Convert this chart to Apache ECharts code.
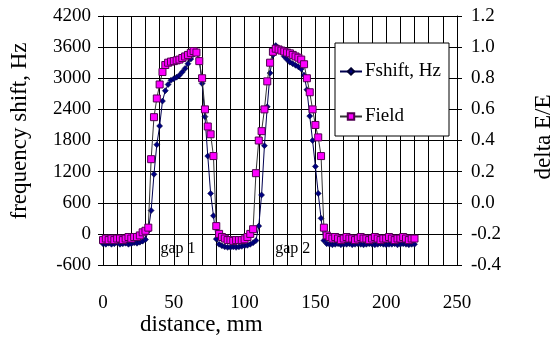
<!DOCTYPE html>
<html>
<head>
<meta charset="utf-8">
<script src="https://cdn.jsdelivr.net/npm/echarts@6/dist/echarts.min.js"></script>
<style>
  html, body { margin: 0; padding: 0; background: #fff; }
  #chart { width: 555px; height: 341px; }
</style>
</head>
<body>
<div id="chart"></div>
<script>
// distance along the cavity, mm
const distanceMm = [
  0, 2, 4, 6, 8, 10, 12, 14, 16, 18, 20, 22, 24, 26, 28, 30, 32, 34, 36, 38,
  40, 42, 44, 46, 48, 50, 52, 54, 56, 58, 60, 62, 64, 66, 68, 70, 72, 74, 76, 78,
  80, 82, 84, 86, 88, 90, 92, 94, 96, 98, 100, 102, 104, 106, 108, 110, 112, 114, 116, 118,
  120, 122, 124, 126, 128, 130, 132, 134, 136, 138, 140, 142, 144, 146, 148, 150, 152, 154, 156, 158,
  160, 162, 164, 166, 168, 170, 172, 174, 176, 178, 180, 182, 184, 186, 188, 190, 192, 194, 196, 198,
  200, 202, 204, 206, 208, 210, 212, 214, 216, 218, 220
];

// frequency shift, Hz (left axis)
const fshiftHz = [
  -190, -200, -180, -200, -190, -170, -200, -190, -180, -200, -190, -170, -180, -160, -140, -110, 60, 450, 1150, 1720,
  2080, 2560, 2760, 2880, 2960, 2990, 3020, 3060, 3120, 3190, 3280, 3370, 3460, 3500, 3350, 2900, 2260, 1500, 780, 350,
  -100, -200, -230, -250, -260, -260, -250, -260, -250, -240, -230, -220, -200, -170, -130, 150, 750, 1700, 2450, 3100,
  3450, 3630, 3570, 3500, 3420, 3360, 3310, 3280, 3250, 3220, 3180, 3060, 2780, 2270, 1800, 1300, 780, 300, -130, -190,
  -200, -210, -200, -190, -210, -200, -200, -190, -210, -200, -190, -200, -210, -200, -190, -200, -210, -200, -190, -200,
  -210, -200, -200, -190, -210, -200, -190, -200, -210, -200, -200
];

// relative field delta E/E (right axis)
const fieldRel = [
  -0.24, -0.23, -0.24, -0.23, -0.24, -0.23, -0.23, -0.24, -0.23, -0.22, -0.23, -0.22, -0.22, -0.21, -0.19, -0.18, -0.16, 0.28, 0.55, 0.67,
  0.76, 0.84, 0.885, 0.9, 0.907, 0.91, 0.915, 0.92, 0.93, 0.94, 0.95, 0.963, 0.975, 0.965, 0.91, 0.8, 0.6, 0.49, 0.44, 0.3,
  -0.15, -0.2, -0.22, -0.23, -0.24, -0.24, -0.245, -0.24, -0.24, -0.24, -0.235, -0.22, -0.2, -0.17, 0.19, 0.4, 0.46, 0.6, 0.78, 0.9,
  0.97, 0.99, 0.985, 0.978, 0.972, 0.965, 0.96, 0.95, 0.94, 0.932, 0.92, 0.89, 0.8, 0.71, 0.6, 0.5, 0.42, 0.3, -0.16, -0.21,
  -0.22, -0.23, -0.22, -0.23, -0.24, -0.23, -0.22, -0.23, -0.23, -0.24, -0.23, -0.22, -0.23, -0.23, -0.24, -0.23, -0.22, -0.23, -0.24, -0.23,
  -0.23, -0.22, -0.23, -0.24, -0.23, -0.23, -0.22, -0.23, -0.24, -0.23, -0.23
];

// gap annotations [distance, Hz]
const gapLabels = [
  { name: 'gap 1', coord: [53, -280] },
  { name: 'gap 2', coord: [134, -280] }
];

const FONT = 'Liberation Serif';

const chart = echarts.init(document.getElementById('chart'));

chart.setOption({
  animation: false,
  backgroundColor: '#fff',
  textStyle: { fontFamily: FONT, color: '#000' },
  grid: { left: 103, right: 98, top: 16, bottom: 76 },
  legend: {
    data: ['Fshift, Hz', 'Field'],
    orient: 'vertical',
    left: 335,
    top: 43,
    backgroundColor: '#fff',
    borderColor: '#000',
    borderWidth: 1,
    borderRadius: 0,
    padding: [19, 8, 10, 4],
    itemGap: 26,
    itemWidth: 22,
    itemHeight: 8,
    textStyle: { fontFamily: FONT, fontSize: 19, color: '#000', padding: [0, 0, 0, -2] }
  },
  xAxis: {
    type: 'value',
    min: 0,
    max: 250,
    interval: 50,
    axisLine: { show: true, lineStyle: { color: '#000', width: 1 } },
    axisTick: { show: false },
    minorTick: { show: false, splitNumber: 5 },
    splitLine: { show: true, lineStyle: { color: '#000', width: 1 } },
    minorSplitLine: { show: true, lineStyle: { color: '#000', width: 1 } },
    axisLabel: { fontFamily: FONT, fontSize: 19, color: '#000', margin: 29 }
  },
  yAxis: [
    {
      type: 'value',
      min: -600,
      max: 4200,
      interval: 600,
      axisLine: { show: true, lineStyle: { color: '#000', width: 1 } },
      axisTick: { show: true, inside: false, length: 5, lineStyle: { color: '#000' } },
      splitLine: { show: true, lineStyle: { color: '#000', width: 1 } },
      axisLabel: {
        fontFamily: FONT, fontSize: 19, color: '#000', margin: 12,
        formatter: (v) => String(v)
      }
    },
    {
      type: 'value',
      min: -0.4,
      max: 1.2,
      interval: 0.2,
      position: 'right',
      axisLine: { show: true, lineStyle: { color: '#000', width: 1 } },
      axisTick: { show: true, inside: false, length: 5, lineStyle: { color: '#000' } },
      splitLine: { show: false },
      axisLabel: {
        fontFamily: FONT, fontSize: 19, color: '#000', margin: 14,
        formatter: (v) => v.toFixed(1)
      }
    }
  ],
  graphic: [
    {
      type: 'text', left: 140, top: 313,
      style: { text: 'distance, mm', font: '23px "Liberation Serif"', fill: '#000' }
    },
    {
      type: 'text', x: 8, y: 131, rotation: Math.PI / 2,
      style: { text: 'frequency shift, Hz', font: '23px "Liberation Serif"', fill: '#000', align: 'center', verticalAlign: 'top' }
    },
    {
      type: 'text', x: 532, y: 137, rotation: Math.PI / 2,
      style: { text: 'delta E/E', font: '23px "Liberation Serif"', fill: '#000', align: 'center', verticalAlign: 'top' }
    }
  ],
  series: [
    {
      name: 'Fshift, Hz',
      type: 'line',
      yAxisIndex: 0,
      data: distanceMm.map((d, i) => [d, fshiftHz[i]]),
      symbol: 'diamond',
      symbolSize: 6,
      showAllSymbol: true,
      lineStyle: { color: '#000050', width: 1 },
      itemStyle: { color: '#000080', borderColor: '#000030', borderWidth: 0.5 },
      z: 2,
      markPoint: {
        symbol: 'circle',
        symbolSize: 0,
        label: {
          show: true, position: 'inside', formatter: (p) => p.name,
          fontFamily: FONT, fontSize: 16, color: '#000'
        },
        data: gapLabels
      }
    },
    {
      name: 'Field',
      type: 'line',
      yAxisIndex: 1,
      data: distanceMm.map((d, i) => [d, fieldRel[i]]),
      symbol: 'rect',
      symbolSize: 7,
      showAllSymbol: true,
      lineStyle: { color: '#333', width: 1 },
      itemStyle: { color: '#ff00ff', borderColor: '#500050', borderWidth: 1 },
      z: 3
    }
  ]
});
</script>
</body>
</html>
